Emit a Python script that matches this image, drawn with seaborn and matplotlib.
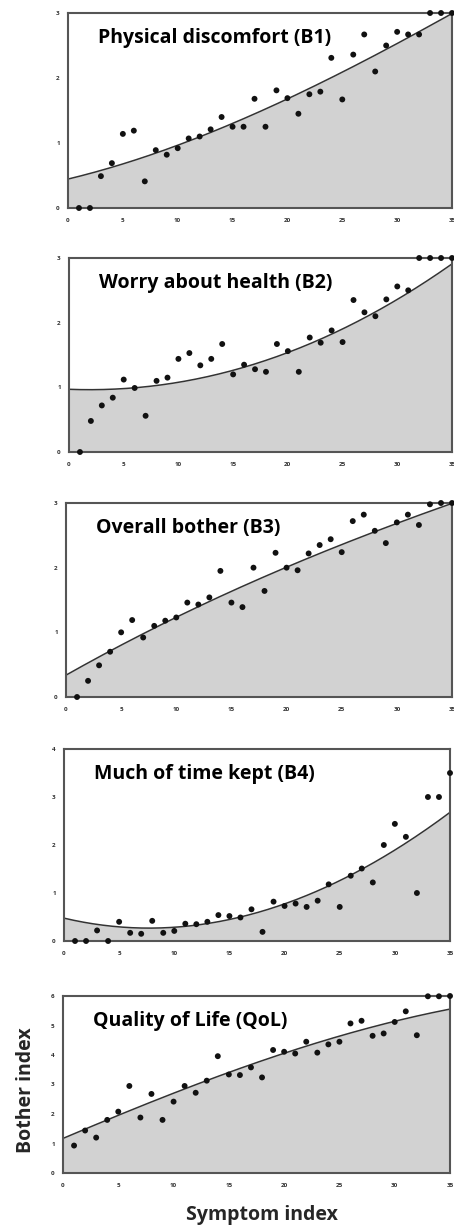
import numpy as np
import pandas as pd
import matplotlib
matplotlib.use("Agg")
import matplotlib.pyplot as plt
import seaborn as sns

sns.set_theme(style="white")
plt.rcParams['font.family'] = ['Open Sans', 'DejaVu Sans']

symptom = list(range(1, 36))

b1 = [0, 0, 0.49, 0.69, 1.14, 1.19, 0.41, 0.89, 0.82, 0.92, 1.07, 1.10, 1.21, 1.40, 1.25,
      1.25, 1.68, 1.25, 1.81, 1.69, 1.45, 1.75, 1.79, 2.31, 1.67, 2.36, 2.67, 2.10, 2.50, 2.71,
      2.67, 2.67, 3.0, 3.0, 3.0]
b2 = [0, 0.48, 0.72, 0.84, 1.12, 0.99, 0.56, 1.10, 1.15, 1.44, 1.53, 1.34, 1.44, 1.67, 1.20,
      1.35, 1.28, 1.24, 1.67, 1.56, 1.24, 1.77, 1.69, 1.88, 1.70, 2.35, 2.16, 2.10, 2.36, 2.56,
      2.50, 3.0, 3.0, 3.0, 3.0]
b3 = [0, 0.25, 0.49, 0.70, 1.0, 1.19, 0.92, 1.10, 1.18, 1.23, 1.46, 1.43, 1.54, 1.95, 1.46,
      1.39, 2.0, 1.64, 2.23, 2.0, 1.96, 2.22, 2.35, 2.44, 2.24, 2.72, 2.82, 2.57, 2.38, 2.70,
      2.82, 2.66, 2.98, 3.0, 3.0]
b4 = [0, 0, 0.22, 0, 0.40, 0.17, 0.15, 0.42, 0.17, 0.21, 0.36, 0.35, 0.40, 0.54, 0.52,
      0.49, 0.66, 0.19, 0.82, 0.73, 0.78, 0.71, 0.84, 1.18, 0.71, 1.36, 1.51, 1.22, 2.0, 2.44,
      2.17, 1.0, 3.0, 3.0, 3.5]
qol = [0.93, 1.44, 1.20, 1.80, 2.08, 2.95, 1.88, 2.68, 1.80, 2.42, 2.95, 2.72, 3.13, 3.96, 3.34,
       3.32, 3.58, 3.24, 4.17, 4.11, 4.05, 4.45, 4.08, 4.36, 4.45, 5.07, 5.16, 4.65, 4.73, 5.12,
       5.48, 4.67, 5.99, 5.99, 6.0]

# fitted-curve values at symptom index 0, 5, ..., 35
curve_x = [0, 5, 10, 15, 20, 25, 30, 35]
b1_curve = [0.45, 0.67, 0.96, 1.31, 1.68, 2.10, 2.51, 3.0]
b2_curve = [0.95, 1.01, 1.10, 1.24, 1.50, 1.90, 2.42, 2.88]
b3_curve = [0.34, 0.80, 1.23, 1.63, 2.02, 2.36, 2.67, 3.0]
b4_curve = [0.45, 0.35, 0.28, 0.42, 0.75, 1.27, 1.93, 2.66]
qol_curve = [1.18, 1.95, 2.68, 3.42, 4.10, 4.62, 5.12, 5.57]

titles = ["Physical discomfort (B1)", "Worry about health (B2)", "Overall bother (B3)",
          "Much of time kept (B4)", "Quality of Life (QoL)"]
series = [b1, b2, b3, b4, qol]
curves = [b1_curve, b2_curve, b3_curve, b4_curve, qol_curve]
ymax = [3, 3, 3, 4, 6]
x_ticks = [0, 5, 10, 15, 20, 25, 30, 35]

W, H = 454, 1231
fig = plt.figure(figsize=(W / 100, H / 100), dpi=100)
# axes boxes in pixels: left, right, top, bottom
boxes = [(68, 452, 13, 208), (69, 452, 258, 452), (66, 452, 503, 697),
         (64, 450, 749, 941), (63, 450, 996, 1173)]

for (l, r, t, b), title, ys, cv, ym in zip(boxes, titles, series, curves, ymax):
    ax = fig.add_axes([l / W, 1 - b / H, (r - l) / W, (b - t) / H])
    df = pd.DataFrame({"x": symptom, "y": ys})
    coef = np.polyfit(curve_x, cv, 3)
    xx = np.linspace(0, 35, 200)
    yy = np.clip(np.polyval(coef, xx), 0, ym)
    ax.fill_between(xx, 0, yy, color="#d2d2d2", zorder=1, linewidth=0)
    sns.lineplot(x=xx, y=yy, ax=ax, color="#333333", linewidth=1.1, zorder=2)
    sns.scatterplot(data=df, x="x", y="y", ax=ax, color="#111111", s=18,
                    edgecolor="none", zorder=3, clip_on=False)
    ax.set_xlim(0, 35)
    ax.set_ylim(0, ym)
    ax.set_xticks(x_ticks)
    ax.set_yticks(list(range(0, ym + 1)))
    ax.tick_params(axis="both", length=0, labelsize=4.5, colors="#333333")
    ax.tick_params(axis="x", pad=7)
    ax.tick_params(axis="y", pad=6)
    for lab in ax.get_xticklabels() + ax.get_yticklabels():
        lab.set_fontweight("bold")
    ax.set_xlabel("")
    ax.set_ylabel("")
    for sp in ax.spines.values():
        sp.set_color("#555555")
        sp.set_linewidth(1.5)
    ax.text(30 / (r - l), 1 - 25 / (b - t), title, transform=ax.transAxes,
            fontsize=14, fontweight="bold", color="black", va="center", ha="left")

fig.text(26 / W, 1 - 1090 / H, "Bother index", rotation=90, fontsize=14,
         fontweight="bold", ha="center", va="center")
fig.text(262 / W, 1 - 1215 / H, "Symptom index", fontsize=14,
         fontweight="bold", ha="center", va="center")

fig.savefig("out.png", dpi=100, facecolor="white")
